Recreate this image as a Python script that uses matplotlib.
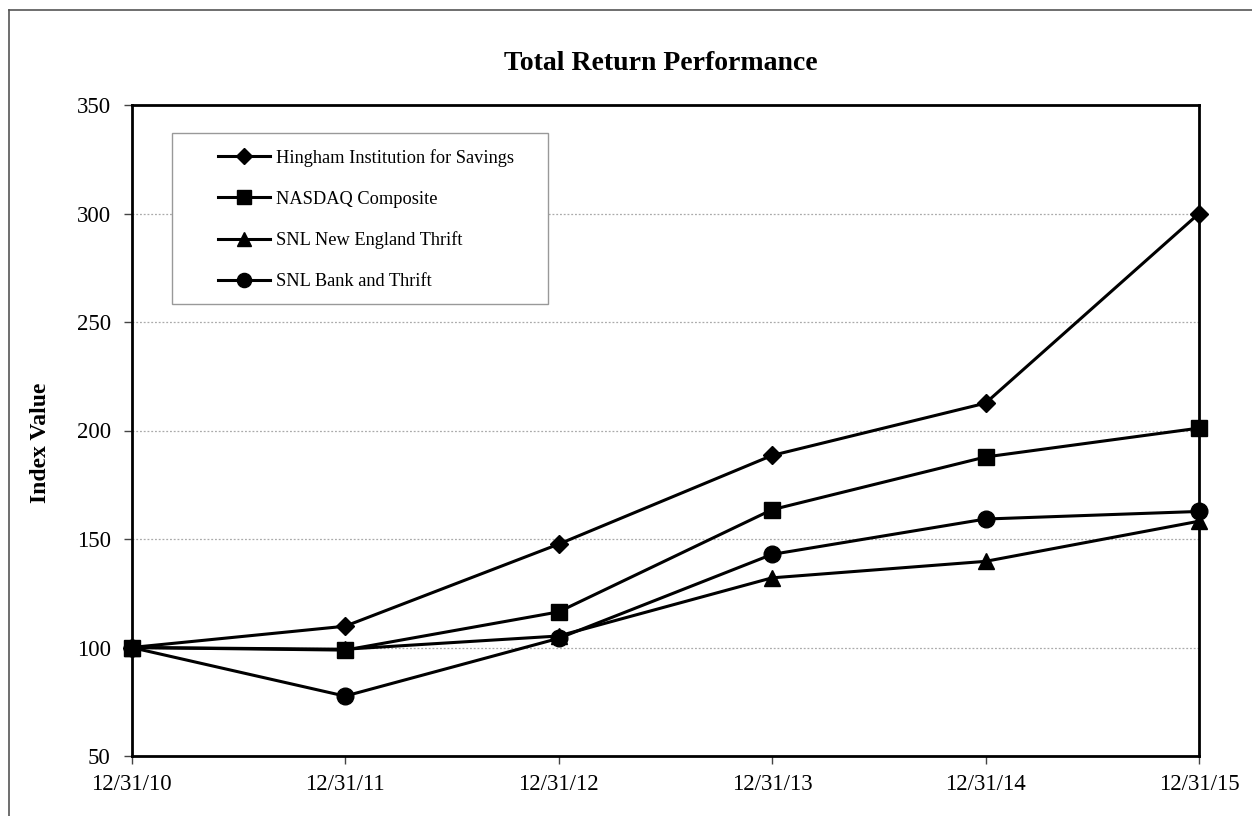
import matplotlib
matplotlib.use("Agg")
import matplotlib.pyplot as plt
from matplotlib.lines import Line2D
from matplotlib.patches import Rectangle

dates = ["12/31/10", "12/31/11", "12/31/12", "12/31/13", "12/31/14", "12/31/15"]
hingham = [100, 109.8, 147.6, 188.5, 212.6, 300.0]
nasdaq = [100, 98.8, 116.4, 163.5, 187.8, 201.1]
ne_thrift = [100, 99.2, 105.3, 132.1, 139.7, 158.2]
bank_thrift = [100, 77.6, 104.2, 142.9, 159.2, 162.7]
series_names = ["Hingham Institution for Savings", "NASDAQ Composite",
                "SNL New England Thrift", "SNL Bank and Thrift"]
y_ticks = [50, 100, 150, 200, 250, 300, 350]

plt.rcParams['font.family'] = ['Liberation Serif', 'DejaVu Serif']

W, H = 1252, 816
fig = plt.figure(figsize=(W / 100, H / 100), dpi=100)
ax = fig.add_axes([131.5 / W, (H - 756) / H, (1199 - 131.5) / W, (756 - 105) / H])

x = list(range(len(dates)))
styles = [('D', 9.5), ('s', 12), ('^', 12), ('o', 12)]
for vals, name, (m, ms) in zip([hingham, nasdaq, ne_thrift, bank_thrift], series_names, styles):
    ax.plot(x, vals, color='black', lw=2.2, marker=m, markersize=ms,
            label=name, clip_on=False, zorder=3)

ax.set_xlim(0, len(dates) - 1)
ax.set_ylim(50, 350)
ax.set_yticks(y_ticks)
ax.set_xticks(x)
ax.set_xticklabels(dates)
ax.tick_params(axis='both', labelsize=16.5, direction='out', length=6, width=1, color='#444444')
ax.tick_params(axis='y', pad=9)
ax.tick_params(axis='x', pad=7)
for t in y_ticks[1:-1]:
    ax.axhline(t, color='#aaaaaa', lw=0.9, ls=(0, (1.5, 1.5)), zorder=1)
for s in ax.spines.values():
    s.set_linewidth(2)
    s.set_color('black')

ax.set_ylabel("Index Value", fontsize=17, fontweight='bold')
ax.yaxis.set_label_coords((51 - 131.5) / (1199 - 131.5), (756 - 443) / (756 - 105))
fig.text(661 / W, 1 - 64 / H, "Total Return Performance", fontsize=20,
         fontweight='bold', ha='center', va='center')

# legend box
ax.add_patch(Rectangle((172 / W, (H - 304) / H), 376 / W, 171 / H,
                       transform=fig.transFigure, facecolor='white',
                       edgecolor='#999999', lw=1, zorder=4, clip_on=False))
leg = ax.legend(loc='upper left', bbox_to_anchor=(218 / W, 1 - 149 / H),
                bbox_transform=fig.transFigure, fontsize=13.2, frameon=False,
                handlelength=2.85, labelspacing=1.3, borderpad=0,
                handletextpad=0.3, borderaxespad=0, markerscale=0.85)
leg.set_zorder(5)

# outer frame (left and top)
fig.add_artist(Line2D([9 / W, 9 / W], [0, 1 - 10 / H], color='#555555', lw=1.2,
                      transform=fig.transFigure))
fig.add_artist(Line2D([9 / W, 1], [1 - 10 / H, 1 - 10 / H], color='#555555', lw=1.2,
                      transform=fig.transFigure))

fig.savefig("out.png", dpi=100)
